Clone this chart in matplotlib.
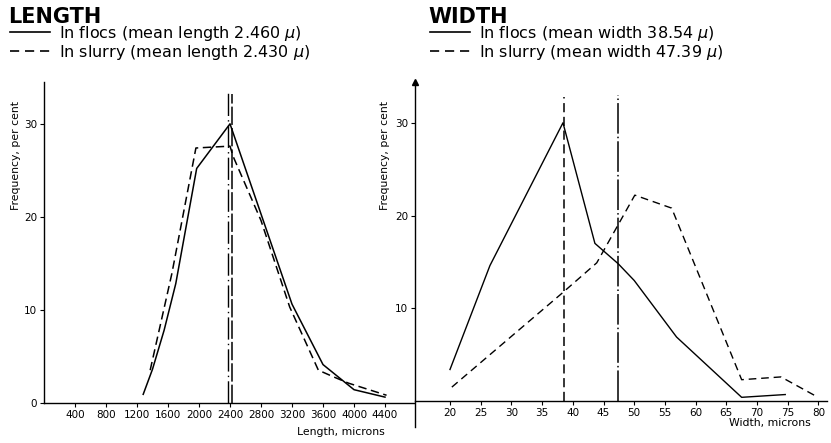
import matplotlib
matplotlib.use("Agg")
import matplotlib.pyplot as plt

plt.rcParams['font.family'] = ['DejaVu Sans']
plt.rcParams['mathtext.fontset'] = 'dejavusans'
TICKFONT = ['Liberation Sans Narrow', 'DejaVu Sans']

# Length panel (microns, per cent)
len_flocs_x = [1280, 1400, 1550, 1700, 1970, 2400, 3200, 3600, 4000, 4400]
len_flocs_y = [0.9, 3.6, 7.8, 12.8, 25.2, 30.0, 10.6, 4.1, 1.4, 0.6]
len_slurry_x = [1370, 1650, 1960, 2400, 2440, 2800, 3170, 3540, 3730, 3930, 4420]
len_slurry_y = [3.5, 13.9, 27.4, 27.6, 26.5, 19.6, 10.3, 3.5, 2.8, 2.1, 0.8]
len_mean_flocs = 2425
len_mean_slurry = 2380
len_ticks = [400, 800, 1200, 1600, 2000, 2400, 2800, 3200, 3600, 4000, 4400]

# Width panel
wid_flocs_x = [20, 26.5, 38.4, 43.6, 47.4, 50.0, 56.9, 67.5, 74.6]
wid_flocs_y = [3.4, 14.6, 30.0, 17.0, 14.8, 13.0, 6.9, 0.4, 0.7]
wid_slurry_x = [20.3, 38.2, 43.9, 50.1, 56.1, 67.5, 73.9, 79.4]
wid_slurry_y = [1.5, 11.6, 14.9, 22.2, 20.8, 2.3, 2.6, 0.6]
wid_mean_flocs = 38.5
wid_mean_slurry = 47.39
wid_ticks = [20, 25, 30, 35, 40, 45, 50, 55, 60, 65, 70, 75, 80]

freq_ticks = [0, 10, 20, 30]

fig = plt.figure(figsize=(8.31, 4.43), dpi=100)
W, H = 831, 443

def frame(ax):
    for s in ['top', 'right']:
        ax.spines[s].set_visible(False)
    for s in ['left', 'bottom']:
        ax.spines[s].set_linewidth(1.0)
    ax.tick_params(length=3, width=0.8, pad=2)
    for lab in ax.get_xticklabels() + ax.get_yticklabels():
        lab.set_family(TICKFONT)
        lab.set_fontsize(7.5)

def legend_block(x0, title, flocs, slurry):
    fig.text(x0/W, 1-22.7/H, title, fontsize=15, fontweight='bold', va='baseline')
    fig.add_artist(plt.Line2D([(x0+2)/W, (x0+42)/W], [1-32.3/H]*2, color='black', lw=1.2))
    fig.text((x0+51)/W, 1-38/H, flocs, fontsize=11.5, va='baseline')
    fig.add_artist(plt.Line2D([(x0+2)/W, (x0+42)/W], [1-50.5/H]*2, color='black', lw=1.2,
                              dashes=(5.5, 3.5)))
    fig.text((x0+51)/W, 1-57/H, slurry, fontsize=11.5, va='baseline')

# ---- LENGTH ----
ax1 = fig.add_axes([44/W, (H-402.7)/H, (415-44)/W, (402.7-82)/H])
ax1.set_xlim(0, 4787)
ax1.set_ylim(0, 34.5)
ax1.plot(len_flocs_x, len_flocs_y, color='black', lw=1.1)
ax1.plot(len_slurry_x, len_slurry_y, color='black', lw=1.1, dashes=(5.5, 3))
ax1.plot([len_mean_slurry]*2, [0, 33.4], color='black', lw=1.0, dashes=(16, 3, 1, 3))
ax1.plot([len_mean_flocs]*2, [0, 33.2], color='black', lw=1.1, dashes=(12, 2))
ax1.set_xticks(len_ticks)
ax1.set_yticks(freq_ticks)
frame(ax1)
ax1.set_ylabel('Frequency, per cent', fontsize=7.8)
ax1.yaxis.set_label_coords(-0.062, 0.77)
ax1.set_xlabel('Length, microns', fontsize=7.8)
ax1.xaxis.set_label_coords(0.80, -0.076)
legend_block(8, 'LENGTH', r'In flocs (mean length 2.460 $\mu$)',
             r'In slurry (mean length 2.430 $\mu$)')

# ---- WIDTH ----
ax2 = fig.add_axes([415/W, (H-427)/H, (827-415)/W, (427-82)/H])
ax2.set_xlim(14.3, 81.4)
ax2.set_ylim(-2.8, 34.4)
ax2.spines['bottom'].set_position(('data', 0))
ax2.plot(wid_flocs_x, wid_flocs_y, color='black', lw=1.0)
ax2.plot(wid_slurry_x, wid_slurry_y, color='black', lw=1.0, dashes=(5.5, 3.5))
ax2.plot([wid_mean_flocs]*2, [0, 32.8], color='black', lw=1.1, dashes=(6, 3))
ax2.plot([wid_mean_slurry]*2, [0, 33.0], color='black', lw=1.1, dashes=(20, 2, 1, 2))
ax2.plot(0, 1, marker='^', color='black', markersize=5, transform=ax2.transAxes, clip_on=False)
ax2.set_xticks(wid_ticks)
ax2.set_yticks([10, 20, 30])
frame(ax2)
ax2.set_ylabel('Frequency, per cent', fontsize=7.8)
ax2.yaxis.set_label_coords(-0.061, 0.786)
ax2.set_xlabel('Width, microns', fontsize=7.8)
ax2.xaxis.set_label_coords(0.862, 0.026)
legend_block(428, 'WIDTH', r'In flocs (mean width 38.54 $\mu$)',
             r'In slurry (mean width 47.39 $\mu$)')

fig.savefig('out.png', dpi=100)
